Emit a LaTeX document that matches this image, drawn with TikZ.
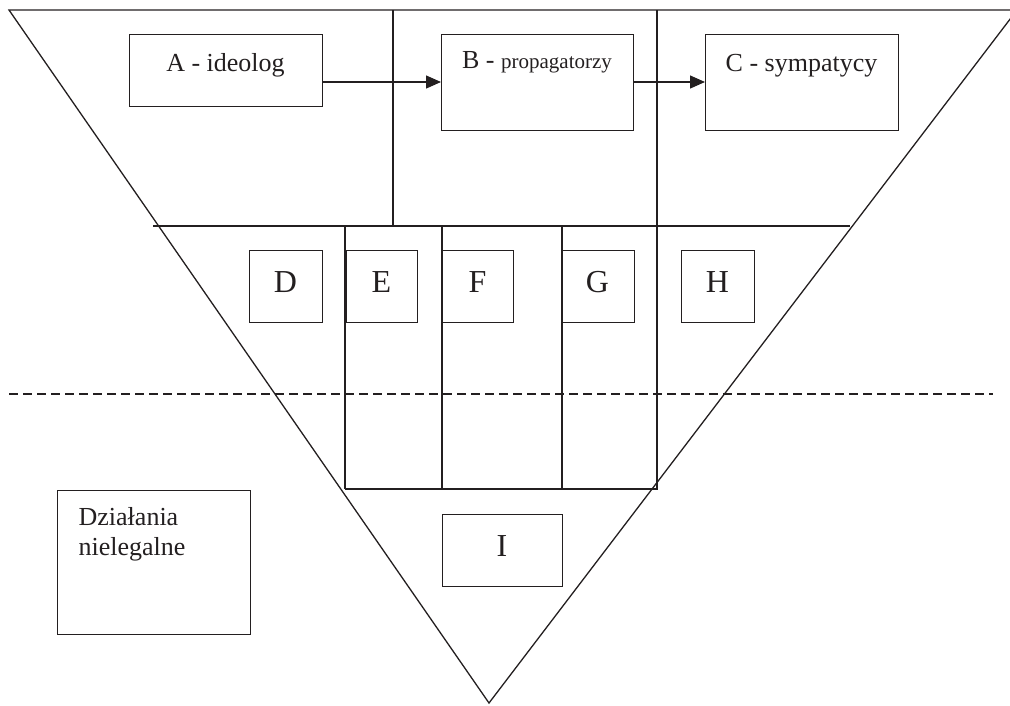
\documentclass[tikz,border=0pt]{standalone}
\usepackage{fontspec}
\setmainfont{Liberation Serif}
\usetikzlibrary{arrows.meta}
\definecolor{ink}{RGB}{35,31,32}
\begin{document}
\begin{tikzpicture}[x=1pt,y=-1pt,
  line width=1.3pt, draw=ink, text=ink,
  box/.style={draw=ink, line width=1.3pt, inner sep=0pt, anchor=north west},
  lbl/.style={inner sep=0pt, anchor=base, text=ink},
  big/.style={font=\fontsize{26}{30}\selectfont},
  letter/.style={font=\fontsize{32}{36}\selectfont},
  flow/.style={-{Triangle[length=15pt,width=13pt]}, draw=ink, line width=1.3pt},
  sep/.style={draw=ink, line width=1.3pt},
  dashline/.style={draw=ink, line width=1.3pt, dash pattern=on 9pt off 5pt}]
\useasboundingbox (0,0) rectangle (1010,705);
\begin{scope}
\clip (0,0) rectangle (1010,705);
% triangle
\coordinate (tl) at (9,10);
\coordinate (tr) at (1017,10);
\coordinate (apex) at (489,703);
\draw[sep, line join=miter] (tl) -- (tr) -- (apex) -- cycle;
\end{scope}
% separators
\coordinate (v1t) at (393,10);  \coordinate (v1b) at (393,226);
\coordinate (v2t) at (657,10);  \coordinate (v2b) at (657,489);
\coordinate (h1l) at (153,226); \coordinate (h1r) at (850,226);
\coordinate (v3t) at (345,226); \coordinate (v3b) at (345,489);
\coordinate (v4t) at (442,226); \coordinate (v4b) at (442,489);
\coordinate (v5t) at (562,226); \coordinate (v5b) at (562,489);
\coordinate (h2l) at (345,489); \coordinate (h2r) at (658,489);
\coordinate (dl) at (9,394);    \coordinate (dr) at (993,394);
\draw[sep] (v1t) -- (v1b);
\draw[sep] (v2t) -- (v2b);
\draw[sep] (h1l) -- (h1r);
\draw[sep] (v3t) -- (v3b);
\draw[sep] (v4t) -- (v4b);
\draw[sep] (v5t) -- (v5b);
\draw[sep] (h2l) -- (h2r);
\draw[dashline] (dl) -- (dr);
% boxes
\node[box, minimum width=193pt, minimum height=72pt] (A) at (129,34) {};
\node[box, minimum width=192pt, minimum height=96pt] (B) at (441,34) {};
\node[box, minimum width=193pt, minimum height=96pt] (C) at (705,34) {};
\node[box, minimum width=73pt, minimum height=72pt] (D) at (249,250) {};
\node[box, minimum width=71pt, minimum height=72pt] (E) at (346,250) {};
\node[box, minimum width=71pt, minimum height=72pt] (F) at (442,250) {};
\node[box, minimum width=73pt, minimum height=72pt] (G) at (561,250) {};
\node[box, minimum width=73pt, minimum height=72pt] (H) at (681,250) {};
\node[box, minimum width=120pt, minimum height=72pt] (I) at (442,514) {};
\node[box, minimum width=193pt, minimum height=144pt] (Dz) at (57,490) {};
% labels
\node[lbl, big] (At) at (225.5,71) {A - ideolog};
\node[lbl, big] (Bt) at (537,68) {B - {\fontsize{21}{25}\selectfont propagatorzy}};
\node[lbl, big] (Ct) at (801.5,71) {C - sympatycy};
\node[lbl, letter] (Dt) at (285.5,292) {D};
\node[lbl, letter] (Et) at (381.5,292) {E};
\node[lbl, letter] (Ft) at (477.5,292) {F};
\node[lbl, letter] (Gt) at (597.5,292) {G};
\node[lbl, letter] (Ht) at (717.5,292) {H};
\node[lbl, letter] (It) at (502,556) {I};
\node[lbl, big, anchor=base west] (Dz1) at (78,525) {Działania};
\node[lbl, big, anchor=base west] (Dz2) at (78,555) {nielegalne};
% arrows
\draw[flow] (A.east |- 0,82) -- (B.west |- 0,82);
\draw[flow] (B.east |- 0,82) -- (C.west |- 0,82);
\end{tikzpicture}
\end{document}
